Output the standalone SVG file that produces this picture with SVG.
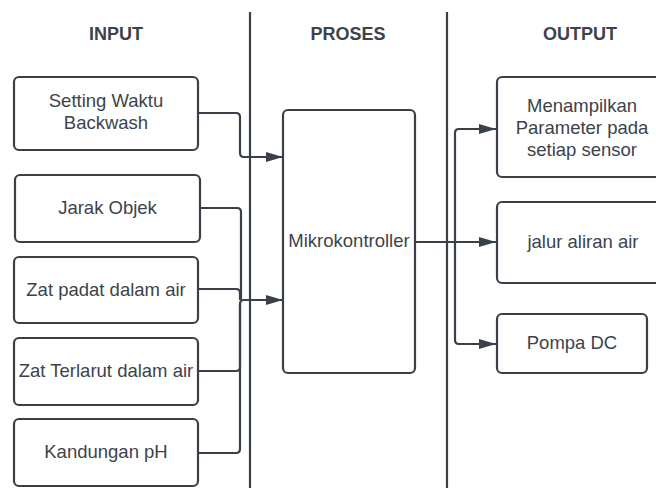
<svg xmlns="http://www.w3.org/2000/svg" width="656" height="488" viewBox="0 0 656 488">
<defs>
<style>
.box{fill:#ffffff;stroke:#3a4049;stroke-width:2.2}
.t{font-family:"Liberation Sans",Arial,sans-serif;font-size:18.5px;fill:#3d434b;text-anchor:middle}
.h{font-family:"Liberation Sans",Arial,sans-serif;font-size:18px;font-weight:bold;fill:#3d434b;text-anchor:middle}
.c{fill:none;stroke:#3a4049;stroke-width:2.2;stroke-linejoin:round}
.div{stroke:#3a4049;stroke-width:2.2}
</style>
<marker id="ah" markerUnits="userSpaceOnUse" markerWidth="18" markerHeight="12" refX="17" refY="5" orient="auto">
<path d="M0,0 L17,5 L0,10 z" fill="#3a4049"/>
</marker>
</defs>
<rect width="656" height="488" fill="#ffffff"/>
<g id="dividers">
<line class="div" x1="250" y1="12" x2="250" y2="488"/>
<line class="div" x1="447" y1="12" x2="447" y2="488"/>
</g>
<g id="headers">
<text class="h" x="116" y="40">INPUT</text>
<text class="h" x="348" y="40">PROSES</text>
<text class="h" x="580" y="40">OUTPUT</text>
</g>
<g id="connectors">
<path class="c" d="M198,113 H236 Q240,113 240,117 V153 Q240,157 244,157 H283" marker-end="url(#ah)"/>
<path class="c" d="M200,208 H237 Q241,208 241,212 V300"/>
<path class="c" d="M198,289 H236 Q240,289 240,293 V300"/>
<path class="c" d="M198,371 H236 Q240,371 240,367 V304 Q240,300 244,300 H283" marker-end="url(#ah)"/>
<path class="c" d="M198,453 H236 Q240,453 240,449 V304"/>
<path class="c" d="M415,242 H455"/>
<path class="c" d="M455,242 V133 Q455,129 459,129 H496" marker-end="url(#ah)"/>
<path class="c" d="M455,242 H496" marker-end="url(#ah)"/>
<path class="c" d="M455,242 V340 Q455,344 459,344 H496" marker-end="url(#ah)"/>
</g>
<g id="setting">
<rect class="box" x="14" y="77" width="184" height="73" rx="5"/>
<text class="t" x="106" y="107">Setting Waktu</text>
<text class="t" x="106" y="129">Backwash</text>
</g>
<g id="jarak">
<rect class="box" x="15" y="175" width="185" height="67" rx="5"/>
<text class="t" x="107.5" y="214">Jarak Objek</text>
</g>
<g id="padat">
<rect class="box" x="14" y="257" width="184" height="66" rx="5"/>
<text class="t" x="106" y="296">Zat padat dalam air</text>
</g>
<g id="terlarut">
<rect class="box" x="14" y="338" width="184" height="67" rx="5"/>
<text class="t" x="106" y="377">Zat Terlarut dalam air</text>
</g>
<g id="ph">
<rect class="box" x="14" y="419" width="184" height="67" rx="5"/>
<text class="t" x="106" y="458">Kandungan pH</text>
</g>
<g id="mikro">
<rect class="box" x="283" y="110" width="132" height="263" rx="5"/>
<text class="t" x="349" y="247">Mikrokontroller</text>
</g>
<g id="menampilkan">
<rect class="box" x="497" y="77" width="170" height="100" rx="5"/>
<text class="t" x="582" y="112">Menampilkan</text>
<text class="t" x="582" y="134">Parameter pada</text>
<text class="t" x="582" y="156">setiap sensor</text>
</g>
<g id="jalur">
<rect class="box" x="497" y="202" width="170" height="81" rx="5"/>
<text class="t" x="583" y="248">jalur aliran air</text>
</g>
<g id="pompa">
<rect class="box" x="497" y="314" width="150" height="59" rx="5"/>
<text class="t" x="572" y="349">Pompa DC</text>
</g>
</svg>
